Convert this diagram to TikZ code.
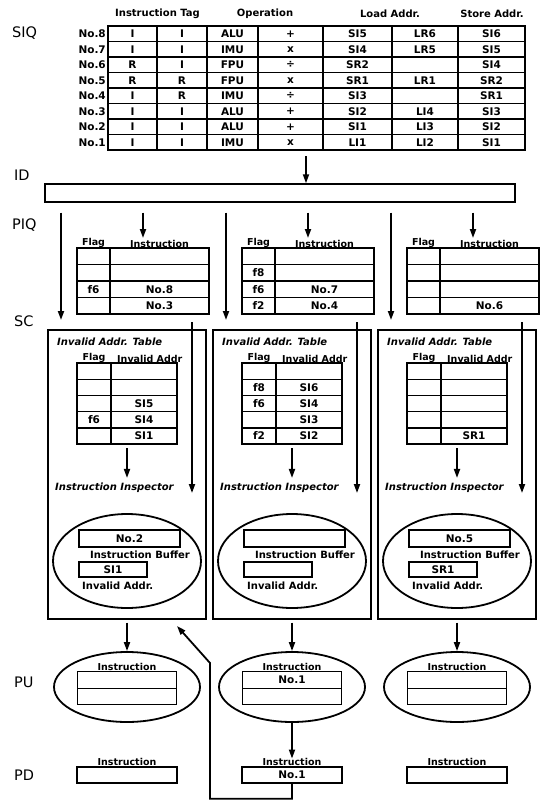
\documentclass[tikz,border=0pt]{standalone}
\usepackage{fontspec}
\setmainfont{DejaVu Sans}
\usetikzlibrary{positioning,shapes.geometric,arrows.meta,calc}
\tikzset{
  stagelbl/.style={anchor=west,font=\fontsize{14.5}{15}\selectfont,inner sep=0pt},
  colhead/.style={font=\fontsize{10}{11}\selectfont\bfseries,inner sep=0pt},
  tabhead/.style={font=\fontsize{9.5}{10}\selectfont\bfseries,inner sep=0pt,anchor=south},
  rowlbl/.style={anchor=east,font=\fontsize{10.5}{11}\selectfont\bfseries,inner sep=0pt},
  cell/.style={draw,line width=1.4pt,inner sep=0pt,font=\fontsize{10.5}{11}\selectfont\bfseries},
  ittitle/.style={anchor=west,font=\fontsize{10}{11}\selectfont\bfseries\itshape,inner sep=0pt},
  plainlbl/.style={font=\fontsize{10}{11}\selectfont\bfseries,inner sep=0pt},
  scbox/.style={draw,line width=1.4pt,minimum width=158pt,minimum height=289pt,inner sep=0pt},
  oval/.style={ellipse,draw,line width=1.8pt,inner sep=0pt},
  arr/.style={-{Triangle[length=9pt,width=6pt]},line width=1.8pt},
}
\def\siqx{{132.5,182,232.5,290.5,357.5,425,491.5}}
\def\siqw{{49,50,51,65,69,66,67}}

\begin{document}
\begin{tikzpicture}[x=1pt,y=-1pt]
  \useasboundingbox (0,0) rectangle (545,800);
  % stage labels
  \node[stagelbl] (lsiq) at (12,33) {SIQ};
  \node[stagelbl] (lid) at (14,175) {ID};
  \node[stagelbl] (lpiq) at (12,225) {PIQ};
  \node[stagelbl] (lsc) at (14,321) {SC};
  \node[stagelbl] (lpu) at (14,682) {PU};
  \node[stagelbl] (lpd) at (14,775) {PD};

  % SIQ
  \node[colhead] (htag) at (157.5,14) {Instruction Tag};
  \node[colhead] (hop) at (265,14) {Operation};
  \node[colhead] (hload) at (390,14) {Load Addr.};
  \node[colhead] (hstore) at (492,14) {Store Addr.};
  \foreach \n [count=\i] in {8,...,1}
    \node[rowlbl] (no\n) at (106,18.25+15.5*\i) {No.\n};
  \foreach \row [count=\i] in {{I,I,ALU,+,SI5,LR6,SI6},{I,I,IMU,x,SI4,LR5,SI5},
      {R,I,FPU,÷,SR2,{},SI4},{R,R,FPU,x,SR1,LR1,SR2},{I,R,IMU,÷,SI3,{},SR1},
      {I,I,ALU,+,SI2,LI4,SI3},{I,I,ALU,+,SI1,LI3,SI2},{I,I,IMU,x,LI1,LI2,SI1}}{
    \foreach \t [count=\j] in \row {
      \pgfmathsetmacro{\cx}{\siqx[\j-1]}
      \pgfmathsetmacro{\cw}{\siqw[\j-1]}
      \node[cell,minimum width=\cw pt,minimum height=15.5pt] (siq-\i-\j) at (\cx,18.25+15.5*\i) {\t};
    }
  }

  % ID
  \node[draw,line width=1.4pt,minimum width=470pt,minimum height=18pt,inner sep=0pt] (id) at (280,193) {};
  \coordinate (siqout) at (306,150);
  \draw[arr,shorten <=6pt] (siqout) -- (id.north -| siqout);

  % PIQ
  \foreach \k/\tab in {1/{{}/{},{}/{},f6/No.8,{}/No.3},2/{{}/{},f8/{},f6/No.7,f2/No.4},
      3/{{}/{},{}/{},{}/{},{}/No.6}}{
    \pgfmathsetmacro{\lx}{77+165*(\k-1)}
    \foreach \f/\s [count=\i] in \tab {
      \node[cell,minimum width=33pt,minimum height=16.5pt] (piq\k-\i-f) at (\lx+16.5,239.75+16.5*\i) {\f};
      \node[cell,minimum width=99pt,minimum height=16.5pt] (piq\k-\i-s) at (\lx+82.5,239.75+16.5*\i) {\s};
    }
    \node[tabhead] (piqf\k) at (\lx+16.5,248) {Flag};
    \node[tabhead] (piqh\k) at (\lx+82.5,248) {Instruction};
    \coordinate (piqtop\k) at (\lx+66,248);
    \coordinate (piqout\k) at (\lx+115,314);
  }

  % SC
  \foreach \k/\tab/\bn/\ia in {1/{{}/{},{}/{},{}/SI5,f6/SI4,{}/SI1}/No.2/SI1,
      2/{{}/{},f8/SI6,f6/SI4,{}/SI3,f2/SI2}/{}/{},
      3/{{}/{},{}/{},{}/{},{}/{},{}/SR1}/No.5/SR1}{
    \pgfmathsetmacro{\lx}{48+165*(\k-1)}
    \node[scbox] (sc\k) at (\lx+79,474.5) {};
    \coordinate (tap\k) at (\lx+13,330);
    \node[ittitle] (iatt\k) at (\lx+9,342) {Invalid Addr. Table};
    \node[tabhead] (iatf\k) at (\lx+46,363) {Flag};
    \node[tabhead,anchor=south west] (iath\k) at (\lx+69,363) {Invalid Addr};
    \foreach \f/\s [count=\i] in \tab {
      \node[cell,minimum width=34pt,minimum height=16.2pt] (iat\k-\i-f) at (\lx+46,354.9+16.2*\i) {\f};
      \node[cell,minimum width=66pt,minimum height=16.2pt] (iat\k-\i-s) at (\lx+96,354.9+16.2*\i) {\s};
    }
    \coordinate (iatb\k) at (\lx+79,444);
    \node[ittitle] (insp\k) at (\lx+7,488) {Instruction Inspector};
    \node[oval,minimum width=148pt,minimum height=94pt] (iu\k) at (\lx+79,561) {};
    \node[cell,minimum width=101pt,minimum height=17pt] (buf\k) at (\lx+81.5,538.5) {\bn};
    \node[plainlbl] (bufl\k) at (\lx+92,555) {Instruction Buffer};
    \node[cell,minimum width=68pt,minimum height=15pt] (inv\k) at (\lx+65,569.5) {\ia};
    \node[plainlbl,anchor=west] (invl\k) at (\lx+34,586) {Invalid Addr.};
  }

  % PU / PD
  \foreach \k/\ia in {1/{},2/No.1,3/{}}{
    \pgfmathsetmacro{\cx}{127+165*(\k-1)}
    \node[oval,minimum width=146pt,minimum height=70pt] (pu\k) at (\cx,687) {};
    \node[cell,minimum width=99pt,minimum height=16.5pt] (pua\k) at (\cx,680) {\ia};
    \node[cell,minimum width=99pt,minimum height=16.5pt] (pub\k) at (\cx,696.5) {};
    \node[tabhead] (puh\k) at (pua\k.north) {Instruction};
    \node[cell,minimum width=100pt,minimum height=16pt] (pd\k) at (\cx,775) {\ia};
    \node[tabhead] (pdh\k) at (pd\k.north) {Instruction};
  }

  \foreach \k in {1,2,3}{
    \draw[arr,shorten <=10pt,shorten >=10pt] (id.south -| piqtop\k) -- (piqtop\k);
    \draw[arr,shorten <=10pt,shorten >=10pt] (id.south -| tap\k) -- (tap\k);
    \draw[arr,shorten <=8pt] (piqout\k) -- (piqout\k |- insp\k.south);
    \draw[arr,shorten <=4pt,shorten >=5pt] (iatb\k) -- (iatb\k |- insp\k.north);
    \draw[arr,shorten <=3pt] (sc\k.south) -- (pu\k.north);
  }
  \draw[arr] (pu2.south) -- (pdh2.north);
  % back to SC
  \coordinate (fbbend) at (210,663);
  \coordinate (fbtip) at (177,626);
  \draw[arr] (pd2.south) -- ++(0,15) -| (fbbend) -- (fbtip);
\end{tikzpicture}
\end{document}
